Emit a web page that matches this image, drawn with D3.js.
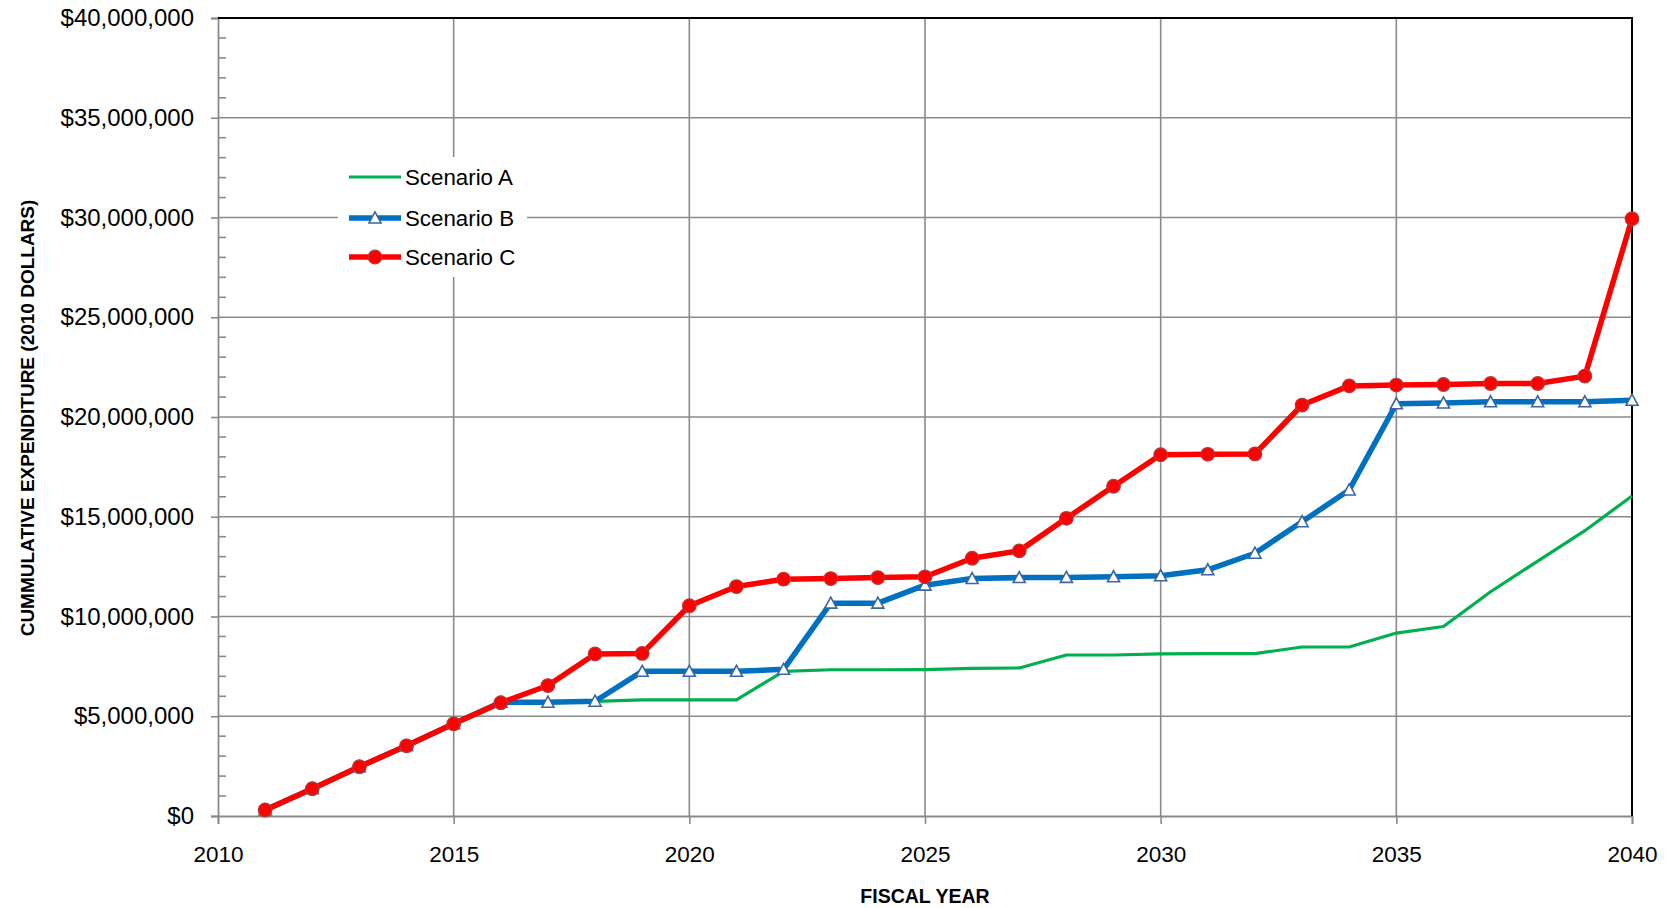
<!DOCTYPE html>
<html>
<head>
<meta charset="utf-8">
<script src="https://cdn.jsdelivr.net/npm/d3@7"></script>
<style>
  html, body { margin: 0; padding: 0; background: #fff; }
  svg { display: block; font-family: "Liberation Sans", Arial, sans-serif; }
</style>
</head>
<body>
<svg id="chart" width="1667" height="908"></svg>
<script>
const years = d3.range(2011, 2041);
const scenarioA = [0.30, 1.37, 2.47, 3.52, 4.62, 5.70, 5.70, 5.75, 5.82, 5.82, 5.82, 7.25, 7.33, 7.33, 7.34, 7.40, 7.42, 8.07, 8.07, 8.13, 8.14, 8.14, 8.47, 8.47, 9.17, 9.50, 11.24, 12.78, 14.30, 16.04];
const scenarioB = [0.30, 1.37, 2.47, 3.52, 4.62, 5.70, 5.70, 5.75, 7.25, 7.25, 7.25, 7.35, 10.67, 10.67, 11.57, 11.90, 11.95, 11.96, 11.99, 12.04, 12.34, 13.17, 14.75, 16.34, 20.66, 20.70, 20.76, 20.76, 20.76, 20.84];
const scenarioC = [0.30, 1.37, 2.47, 3.52, 4.62, 5.68, 6.54, 8.12, 8.15, 10.54, 11.50, 11.87, 11.90, 11.95, 11.99, 12.92, 13.29, 14.92, 16.53, 18.11, 18.13, 18.15, 20.60, 21.56, 21.60, 21.63, 21.68, 21.68, 22.05, 29.94];
const seriesNames = ["Scenario A", "Scenario B", "Scenario C"];
const yTicks = [0, 5e6, 10e6, 15e6, 20e6, 25e6, 30e6, 35e6, 40e6];
const xTicks = [2010, 2015, 2020, 2025, 2030, 2035, 2040];
const yTitle = "CUMMULATIVE EXPENDITURE (2010 DOLLARS)";
const xTitle = "FISCAL YEAR";

const L = 218, R = 1632, T = 18, B = 816;
const svg = d3.select("#chart");
const x = d3.scaleLinear().domain([2010, 2040]).range([L, R]);
const y = d3.scaleLinear().domain([0, 40e6]).range([B, T]);
const gridColor = "#8a8a8a";

// gridlines
const grid = svg.append("g");
grid.selectAll("line.h").data(yTicks.filter(d => d > 0 && d < 40e6)).join("line")
  .attr("x1", L).attr("x2", R).attr("y1", d => y(d)).attr("y2", d => y(d))
  .attr("stroke", gridColor).attr("stroke-width", 1.6);
grid.selectAll("line.v").data(xTicks.filter(d => d > 2010 && d < 2040)).join("line")
  .attr("x1", d => x(d)).attr("x2", d => x(d)).attr("y1", T).attr("y2", B)
  .attr("stroke", gridColor).attr("stroke-width", 1.6);

// minor y ticks (inside)
const minor = d3.range(1e6, 40e6, 1e6).filter(d => d % 5e6 !== 0);
svg.append("g").selectAll("line").data(minor).join("line")
  .attr("x1", L).attr("x2", L + 8).attr("y1", d => y(d)).attr("y2", d => y(d))
  .attr("stroke", gridColor).attr("stroke-width", 1.6);

// axes
const yAxis = svg.append("g").attr("transform", `translate(${L},0)`)
  .call(d3.axisLeft(y).tickValues(yTicks).tickSize(7).tickPadding(17)
    .tickFormat(d => "$" + d3.format(",")(d)));
yAxis.select(".domain").attr("stroke", gridColor).attr("stroke-width", 1.8);
yAxis.selectAll(".tick line").attr("stroke", gridColor).attr("stroke-width", 1.6);
yAxis.selectAll(".tick text").attr("font-size", 24).attr("fill", "#000")
  .attr("font-family", "Liberation Sans, Arial, sans-serif");

const xAxis = svg.append("g").attr("transform", `translate(0,${B})`)
  .call(d3.axisBottom(x).tickValues(xTicks).tickSize(8).tickPadding(22).tickFormat(d3.format("d")));
xAxis.select(".domain").attr("stroke", gridColor).attr("stroke-width", 1.8);
xAxis.selectAll(".tick line").attr("stroke", gridColor).attr("stroke-width", 1.6);
xAxis.selectAll(".tick text").attr("font-size", 22.5).attr("fill", "#000")
  .attr("font-family", "Liberation Sans, Arial, sans-serif");

// top & right border
svg.append("line").attr("x1", L).attr("x2", R + 1).attr("y1", T).attr("y2", T)
  .attr("stroke", "#000").attr("stroke-width", 2);
svg.append("line").attr("x1", R).attr("x2", R).attr("y1", T).attr("y2", B)
  .attr("stroke", "#000").attr("stroke-width", 2);

// series
const line = d3.line().x((d, i) => x(years[i])).y(d => y(d * 1e6));
const series = [
  { name: seriesNames[0], values: scenarioA, color: "#00b050", width: 3.2, marker: "none" },
  { name: seriesNames[1], values: scenarioB, color: "#0070c0", width: 5.5, marker: "triangle" },
  { name: seriesNames[2], values: scenarioC, color: "#ff0000", width: 5.5, marker: "circle" }
];
const triPath = (cx, cy) => {
  const h = 11, w = 12;
  return `M${cx},${cy - h * 0.55} L${cx + w / 2},${cy + h * 0.45} L${cx - w / 2},${cy + h * 0.45} Z`;
};

series.forEach(s => {
  svg.append("path").datum(s.values).attr("d", line)
    .attr("fill", "none").attr("stroke", s.color).attr("stroke-width", s.width)
    .attr("stroke-linejoin", "round");
});
series.forEach(s => {
  if (s.marker === "circle") {
    svg.append("g").selectAll("circle").data(s.values).join("circle")
      .attr("cx", (d, i) => x(years[i])).attr("cy", d => y(d * 1e6)).attr("r", 6.8)
      .attr("fill", "#ff0000").attr("stroke", "#b23a3a").attr("stroke-width", 1.2);
  } else if (s.marker === "triangle") {
    svg.append("g").selectAll("path").data(s.values).join("path")
      .attr("d", (d, i) => triPath(x(years[i]), y(d * 1e6)))
      .attr("fill", "#fff").attr("stroke", "#3d64a4").attr("stroke-width", 1.6);
  }
});

// legend
const lg = svg.append("g");
lg.append("rect").attr("x", 338).attr("y", 157).attr("width", 189).attr("height", 120).attr("fill", "#fff");
const rowsY = [177, 218, 257];
series.forEach((s, i) => {
  const cy = rowsY[i];
  lg.append("line").attr("x1", 349).attr("x2", 401).attr("y1", cy).attr("y2", cy)
    .attr("stroke", s.color).attr("stroke-width", s.width);
  if (s.marker === "circle") {
    lg.append("circle").attr("cx", 375).attr("cy", cy).attr("r", 6.8)
      .attr("fill", "#ff0000").attr("stroke", "#b23a3a").attr("stroke-width", 1.2);
  } else if (s.marker === "triangle") {
    lg.append("path").attr("d", triPath(375, cy))
      .attr("fill", "#fff").attr("stroke", "#3d64a4").attr("stroke-width", 1.6);
  }
  lg.append("text").attr("x", 405).attr("y", cy).attr("dy", "0.36em")
    .attr("font-size", 22.3).attr("fill", "#000").text(s.name);
});

// axis titles
svg.append("text").attr("transform", `translate(34,418) rotate(-90)`)
  .attr("text-anchor", "middle").attr("font-weight", "bold").attr("font-size", 19)
  .attr("fill", "#000").text(yTitle);
svg.append("text").attr("x", (L + R) / 2).attr("y", 903)
  .attr("text-anchor", "middle").attr("font-weight", "bold").attr("font-size", 19.5)
  .attr("fill", "#000").text(xTitle);
</script>
</body>
</html>
